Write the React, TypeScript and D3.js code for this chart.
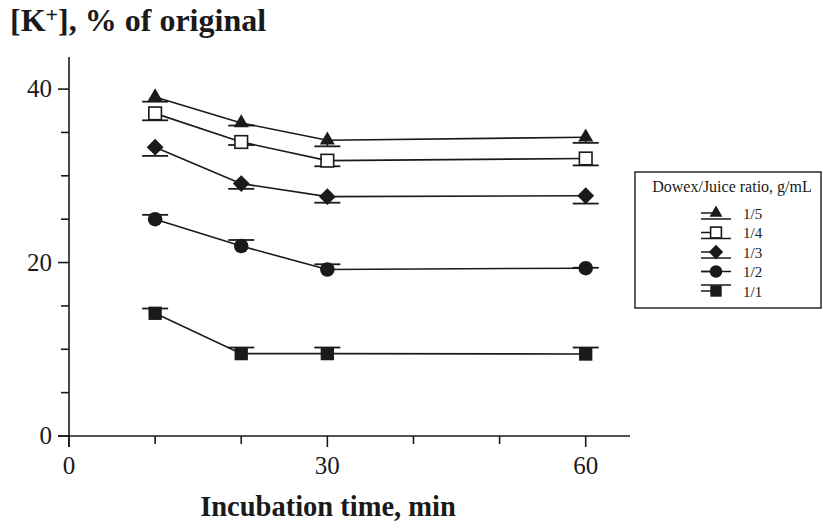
import React from "react";
import * as d3 from "d3";

const times = [10, 20, 30, 60];
const xTicks = [0, 10, 20, 30, 40, 50, 60];
const xLabels = [0, 30, 60];
const yTicks = [0, 5, 10, 15, 20, 25, 30, 35, 40];
const yLabels = [0, 20, 40];

const seriesNames = ["1/5", "1/4", "1/3", "1/2", "1/1"];
const seriesSymbols = ["triangle", "openSquare", "diamond", "circle", "square"];
const vals15 = [39.1, 36.1, 34.1, 34.45];
const vals14 = [37.2, 33.9, 31.75, 32.0];
const vals13 = [33.3, 29.1, 27.6, 27.7];
const vals12 = [25.0, 21.9, 19.2, 19.35];
const vals11 = [14.15, 9.5, 9.5, 9.45];
const err15 = [-0.55, -0.3, -0.7, -0.65];
const err14 = [-0.8, -0.35, -0.65, -0.8];
const err13 = [-1.0, -0.6, -0.7, -0.9];
const err12 = [0.5, 0.7, 0.6, 0.05];
const err11 = [0.55, 0.7, 0.7, 0.75];
const seriesValues = [vals15, vals14, vals13, vals12, vals11];
const seriesErrors = [err15, err14, err13, err12, err11];
const legendCapOffset = [6, 6, 6, 0, -6];

const W = 823;
const H = 528;
const x = d3.scaleLinear().domain([0, 60]).range([69, 585.7]);
const y = d3.scaleLinear().domain([0, 43.7]).range([436, 57]);

const FONT = "'Liberation Serif', 'Times New Roman', serif";
const INK = "#1a1a1a";

function Marker({ kind, cx, cy, s }: { kind: string; cx: number; cy: number; s: number }) {
  if (kind === "triangle") {
    const p = d3.symbol(d3.symbolTriangle, s * s * 0.5)();
    return <path d={p || ""} transform={`translate(${cx},${cy})`} fill={INK} />;
  }
  if (kind === "openSquare") {
    const a = s * 0.9;
    return <rect x={cx - a / 2} y={cy - a / 2} width={a} height={a} fill="#fff" stroke={INK} strokeWidth={1.6} />;
  }
  if (kind === "diamond") {
    const a = s * 0.6;
    return <path d={`M${cx},${cy - a}L${cx + a},${cy}L${cx},${cy + a}L${cx - a},${cy}Z`} fill={INK} />;
  }
  if (kind === "circle") {
    return <circle cx={cx} cy={cy} r={s * 0.52} fill={INK} />;
  }
  const a = s * 0.95;
  return <rect x={cx - a / 2} y={cy - a / 2} width={a} height={a} fill={INK} />;
}

export default function App() {
  const line = d3
    .line<number>()
    .x((_, i) => x(times[i]))
    .y((d) => y(d));

  const legendX = 716;
  const legendY0 = 213;
  const legendDy = 19.5;

  return (
    <svg width={W} height={H} style={{ position: "absolute", left: 0, top: 0, background: "#fff" }}>
      <rect x={0} y={0} width={W} height={H} fill="#fff" />
      {/* title */}
      <text x={10} y={31} fontFamily={FONT} fontWeight="bold" fontSize={32} fill={INK}>
        [K<tspan fontSize={22} dy={-9}>+</tspan>
        <tspan dy={9}>], % of original</tspan>
      </text>

      {/* axes */}
      <line x1={x(0)} x2={x(0)} y1={57} y2={y(0) + 11} stroke={INK} strokeWidth={1.6} />
      <line x1={x(0) - 11} x2={630} y1={y(0)} y2={y(0)} stroke={INK} strokeWidth={1.6} />
      {yTicks.map((t) => {
        const major = yLabels.includes(t);
        return (
          <line key={"yt" + t} x1={x(0) - (major ? 11 : 8)} x2={x(0)} y1={y(t)} y2={y(t)} stroke={INK} strokeWidth={1.6} />
        );
      })}
      {yLabels.map((t) => (
        <text key={"yl" + t} x={52} y={y(t) + 8} textAnchor="end" fontFamily={FONT} fontSize={25} fill={INK}>
          {t}
        </text>
      ))}
      {xTicks.map((t) => {
        const major = xLabels.includes(t);
        return (
          <line key={"xt" + t} x1={x(t)} x2={x(t)} y1={y(0)} y2={y(0) + (major ? 11 : 8)} stroke={INK} strokeWidth={1.6} />
        );
      })}
      {xLabels.map((t) => (
        <text key={"xl" + t} x={x(t)} y={474} textAnchor="middle" fontFamily={FONT} fontSize={25} fill={INK}>
          {t}
        </text>
      ))}
      <text x={328} y={516} textAnchor="middle" fontFamily={FONT} fontWeight="bold" fontSize={28.5} fill={INK}>
        Incubation time, min
      </text>

      {/* series */}
      {seriesValues.map((vals, si) => (
        <g key={"s" + si}>
          <path d={line(vals) || ""} fill="none" stroke={INK} strokeWidth={1.6} />
          {vals.map((v, i) => {
            const ey = y(v + seriesErrors[si][i]);
            return (
              <g key={"e" + i}>
                <line x1={x(times[i])} x2={x(times[i])} y1={y(v)} y2={ey} stroke={INK} strokeWidth={1.6} />
                <line x1={x(times[i]) - 13} x2={x(times[i]) + 13} y1={ey} y2={ey} stroke={INK} strokeWidth={1.8} />
              </g>
            );
          })}
          {vals.map((v, i) => (
            <Marker key={"m" + i} kind={seriesSymbols[si]} cx={x(times[i])} cy={y(v)} s={14} />
          ))}
        </g>
      ))}

      {/* legend */}
      <rect x={635} y={172} width={186} height={136} fill="#fff" stroke={INK} strokeWidth={1.4} />
      <text x={732} y={192} textAnchor="middle" fontFamily={FONT} fontSize={16} fill={INK}>
        Dowex/Juice ratio, g/mL
      </text>
      {seriesNames.map((name, si) => {
        const cy = legendY0 + si * legendDy;
        const off = legendCapOffset[si];
        return (
          <g key={"lg" + si}>
            <line x1={legendX - 15} x2={legendX} y1={cy} y2={cy} stroke={INK} strokeWidth={1.5} />
            <line x1={legendX - 15} x2={legendX + 15} y1={cy + off} y2={cy + off} stroke={INK} strokeWidth={1.5} />
            <Marker kind={seriesSymbols[si]} cx={legendX} cy={cy} s={12} />
            <text x={743} y={cy + 5.5} fontFamily={FONT} fontSize={15} fill={INK}>
              {name}
            </text>
          </g>
        );
      })}
    </svg>
  );
}
